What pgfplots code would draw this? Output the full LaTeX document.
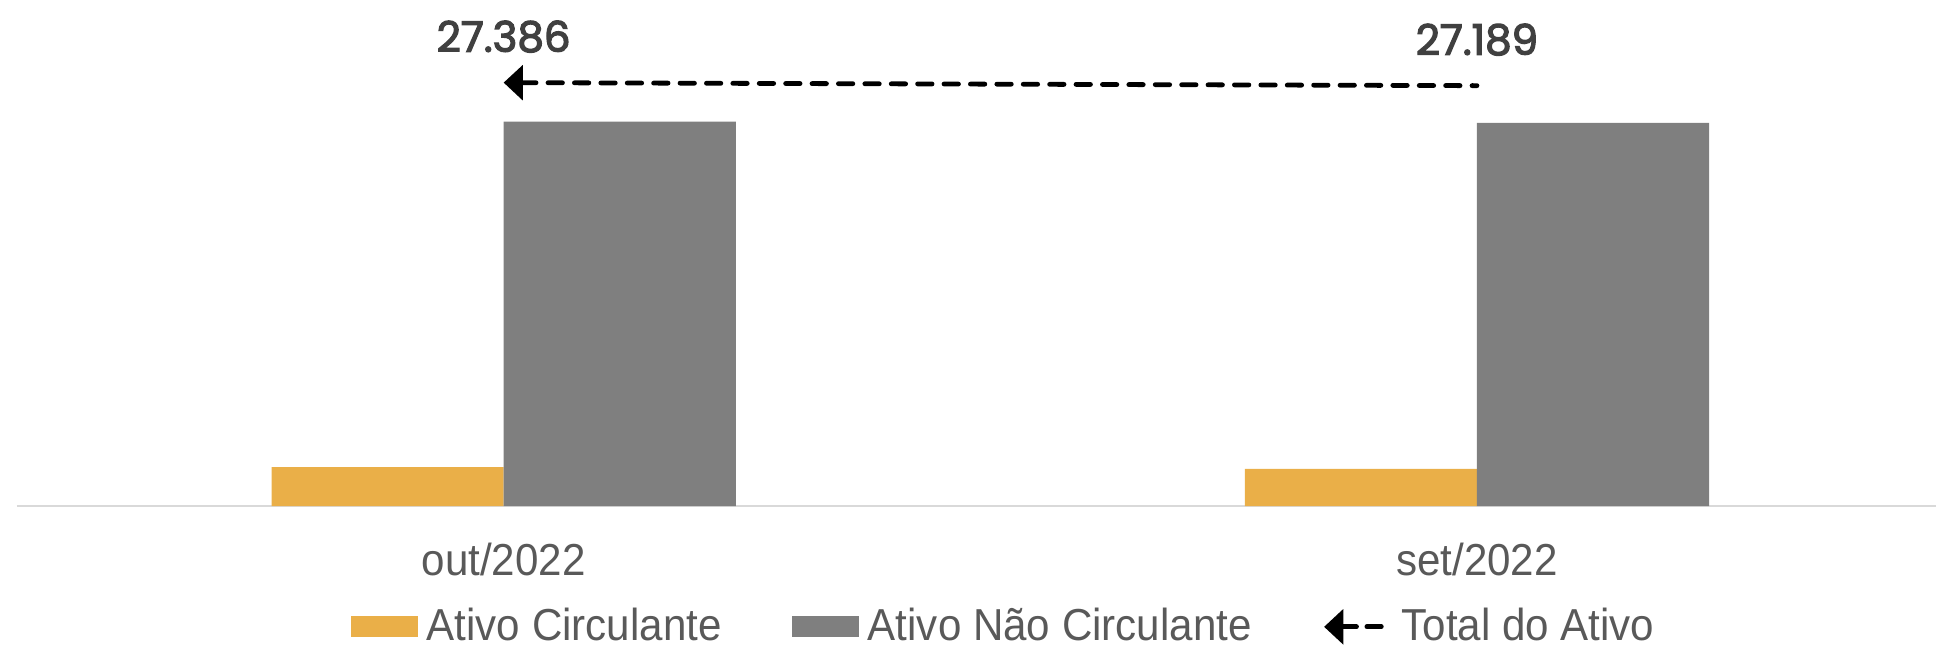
\documentclass[border=0pt]{standalone}
\usepackage{pgfplots}
\pgfplotsset{compat=1.18}
\usepackage{fontspec}
\usetikzlibrary{arrows.meta}
\setmainfont{Liberation Sans}
\newfontfamily\lblfont{Liberation Sans}[FakeStretch=0.94]
\newfontfamily\numfont{Poppins}[FakeBold=3]

\definecolor{acirc}{HTML}{EAAF48}
\definecolor{ancirc}{HTML}{7F7F7F}
\definecolor{txtgray}{HTML}{595959}
\definecolor{numgray}{HTML}{404040}
\definecolor{axgray}{HTML}{D9D9D9}

\begin{document}
\begin{tikzpicture}
\begin{axis}[
    scale only axis,
    width=479.75pt, height=126.5pt,
    xmin=-0.5, xmax=1.4717,
    ymin=0, ymax=32.73,
    axis x line*=bottom,
    hide y axis,
    x axis line style={draw=axgray, line width=0.6pt, -},
    xtick={0,1},
    xticklabels={out/2022, set/2022},
    major tick length=0pt,
    xticklabel style={anchor=base, yshift=-17.25pt, text=txtgray,
        font=\lblfont\fontsize{11.2}{13}\selectfont},
    clip=false,
    legend columns=3,
    legend style={
        at={([yshift=-30.2pt]axis description cs:0.5135,0)},
        anchor=center, draw=none, fill=none, inner sep=0pt,
        nodes={inner sep=0pt},
        font=\lblfont\fontsize{11.2}{13}\selectfont, text=txtgray,
        /tikz/every even column/.append style={column sep=17.5pt},
        /tikz/every odd column/.append style={column sep=2.25pt},
    },
]
\addplot[ybar, bar width=0.2385, bar shift=-0.11925, fill=acirc, draw=none,
    legend image code/.code={\fill[acirc] (0pt,-2.6pt) rectangle (16.8pt,2.6pt);}]
    coordinates {(0,2.51) (1,2.40)};
\addlegendentry{Ativo Circulante}
\addplot[ybar, bar width=0.2385, bar shift=0.11925, fill=ancirc, draw=none,
    legend image code/.code={\fill[ancirc] (0pt,-2.6pt) rectangle (16.8pt,2.6pt);}]
    coordinates {(0,24.87) (1,24.79)};
\addlegendentry{Ativo Não Circulante}
\addplot[black, line width=1.2pt, line cap=round, dash pattern=on 3.6pt off 3pt,
    {Triangle[length=4.8pt, width=8.6pt, line cap=butt]}-,
    nodes near coords, point meta=explicit symbolic,
    every node near coord/.append style={anchor=center, yshift=11.5pt,
        text=numgray, font=\numfont\fontsize{10.5}{12}\selectfont},
    legend image code/.code={\draw[black, line width=1.2pt, line cap=round,
        dash pattern=on 3.6pt off 2.6pt,
        {Triangle[length=4.8pt, width=8.6pt, line cap=butt]}-] (0pt,0pt) -- (16.5pt,0pt);}]
    coordinates {(0,27.386) [27.386] (1,27.189) [27.189]};
\addlegendentry{Total do Ativo}
\coordinate (bl) at (rel axis cs:0,0);
\coordinate (tr) at (rel axis cs:1,1);
\end{axis}
\pgfresetboundingbox
\path[use as bounding box] ([xshift=-4.25pt, yshift=-35pt]bl) rectangle (tr);
\end{tikzpicture}
\end{document}
